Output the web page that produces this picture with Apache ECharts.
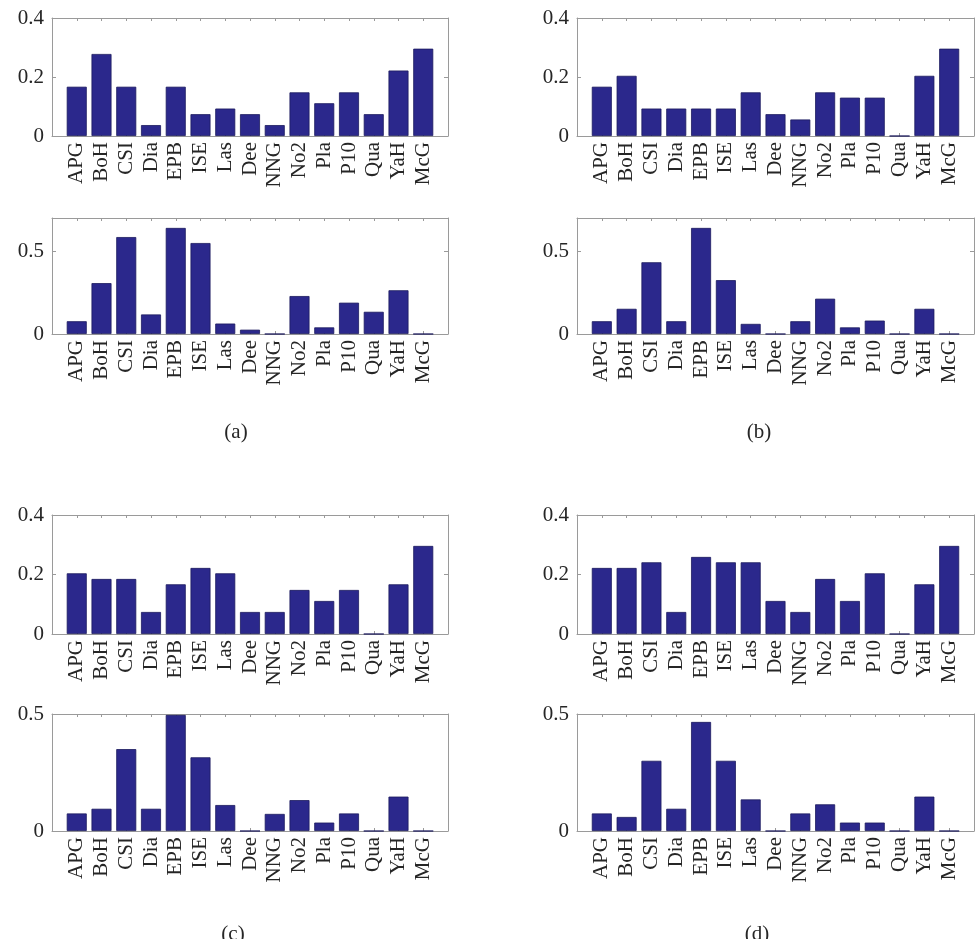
<!DOCTYPE html>
<html>
<head>
<meta charset="utf-8">
<script src="https://cdn.jsdelivr.net/npm/echarts@6/dist/echarts.min.js"></script>
<style>
html,body{margin:0;padding:0;background:#fff;}
#chart{width:978px;height:939px;}
</style>
</head>
<body>
<div id="chart"></div>
<script>
const categories = ['APG','BoH','CSI','Dia','EPB','ISE','Las','Dee','NNG','No2','Pla','P10','Qua','YaH','McG'];

const aTop    = [0.167,0.278,0.167,0.037,0.167,0.074,0.093,0.074,0.037,0.148,0.111,0.148,0.074,0.222,0.296];
const aBottom = [0.077,0.307,0.585,0.118,0.640,0.549,0.063,0.026,0.000,0.229,0.040,0.189,0.134,0.264,0.000];
const bTop    = [0.167,0.204,0.093,0.093,0.093,0.093,0.148,0.074,0.056,0.148,0.130,0.130,0.000,0.204,0.296];
const bBottom = [0.077,0.152,0.433,0.077,0.640,0.325,0.061,0.000,0.077,0.213,0.040,0.081,0.000,0.152,0.000];
const cTop    = [0.204,0.185,0.185,0.074,0.167,0.222,0.204,0.074,0.074,0.148,0.111,0.148,0.000,0.167,0.296];
const cBottom = [0.075,0.095,0.350,0.095,0.496,0.315,0.111,0.000,0.073,0.132,0.036,0.075,0.000,0.147,0.000];
const dTop    = [0.222,0.222,0.241,0.074,0.259,0.241,0.241,0.111,0.074,0.185,0.111,0.204,0.000,0.167,0.296];
const dBottom = [0.075,0.060,0.300,0.095,0.466,0.300,0.135,0.000,0.075,0.114,0.036,0.036,0.000,0.147,0.000];

const yTicksTop = [0, 0.2, 0.4];
const yTicksBottom = [0, 0.5];
const yMaxTop = 0.4;
const yMaxBottomAB = 0.7;
const yMaxBottomCD = 0.5;
const panelLabels = ['(a)', '(b)', '(c)', '(d)'];

const cols = [{left: 52, width: 396}, {left: 577, width: 397}];
const rows = [{top: 18, height: 118}, {top: 218, height: 116}, {top: 515, height: 119}, {top: 714, height: 117}];

const panels = [
  {data: aTop,    col: 0, row: 0, ticks: yTicksTop,    max: yMaxTop,      interval: 0.2},
  {data: aBottom, col: 0, row: 1, ticks: yTicksBottom, max: yMaxBottomAB, interval: 0.5},
  {data: bTop,    col: 1, row: 0, ticks: yTicksTop,    max: yMaxTop,      interval: 0.2},
  {data: bBottom, col: 1, row: 1, ticks: yTicksBottom, max: yMaxBottomAB, interval: 0.5},
  {data: cTop,    col: 0, row: 2, ticks: yTicksTop,    max: yMaxTop,      interval: 0.2},
  {data: cBottom, col: 0, row: 3, ticks: yTicksBottom, max: yMaxBottomCD, interval: 0.5},
  {data: dTop,    col: 1, row: 2, ticks: yTicksTop,    max: yMaxTop,      interval: 0.2},
  {data: dBottom, col: 1, row: 3, ticks: yTicksBottom, max: yMaxBottomCD, interval: 0.5}
];

const FONT = 'Liberation Serif';
const AXIS_COLOR = '#9a9a9a';
const TEXT_COLOR = '#262626';
const BAR_COLOR = '#2b288c';

const grid = [], xAxis = [], yAxis = [], series = [];

panels.forEach((p, i) => {
  grid.push({left: cols[p.col].left, width: cols[p.col].width, top: rows[p.row].top, height: rows[p.row].height, containLabel: false});
  const lineStyle = {color: AXIS_COLOR, width: 1};
  // bottom x axis with category labels
  xAxis.push({
    type: 'value', gridIndex: i, min: 0, max: categories.length + 1, interval: 1,
    position: 'bottom',
    axisLine: {show: true, onZero: false, lineStyle},
    axisTick: {show: true, inside: true, length: 3, lineStyle},
    splitLine: {show: false},
    axisLabel: {
      show: true, rotate: 90, margin: 6, fontFamily: FONT, fontSize: 21, color: TEXT_COLOR,
      showMinLabel: true, showMaxLabel: true,
      formatter: v => (v >= 1 && v <= categories.length) ? categories[Math.round(v) - 1] : ''
    }
  });
  // top x axis (box)
  xAxis.push({
    type: 'value', gridIndex: i, min: 0, max: categories.length + 1, interval: 1,
    position: 'top',
    axisLine: {show: true, onZero: false, lineStyle},
    axisTick: {show: true, inside: true, length: 3, lineStyle},
    splitLine: {show: false},
    axisLabel: {show: false}
  });
  yAxis.push({
    type: 'value', gridIndex: i, min: 0, max: p.max, interval: p.interval,
    position: 'left',
    axisLine: {show: true, onZero: false, lineStyle},
    axisTick: {show: true, inside: true, length: 4, lineStyle},
    splitLine: {show: false},
    axisLabel: {
      show: true, margin: 8, fontFamily: FONT, fontSize: 21, color: TEXT_COLOR,
      showMaxLabel: true,
      formatter: v => {
        const t = p.ticks.find(t => Math.abs(t - v) < 1e-6);
        return t === undefined ? '' : String(t);
      }
    }
  });
  yAxis.push({
    type: 'value', gridIndex: i, min: 0, max: p.max, interval: p.interval,
    position: 'right',
    axisLine: {show: true, onZero: false, lineStyle},
    axisTick: {show: true, inside: true, length: 4, lineStyle},
    splitLine: {show: false},
    axisLabel: {show: false}
  });
  series.push({
    type: 'bar',
    xAxisIndex: 2 * i, yAxisIndex: 2 * i,
    data: p.data.map((v, k) => [k + 1, v]),
    barWidth: 20,
    itemStyle: {color: BAR_COLOR, borderColor: '#1c1a5e', borderWidth: 0.8},
    silent: true,
    animation: false
  });
});

const labelPos = [
  {x: 236, y: 432}, {x: 759, y: 432}, {x: 233, y: 934}, {x: 757, y: 934}
];
const graphic = panelLabels.map((t, i) => ({
  type: 'text', left: null, x: labelPos[i].x, y: labelPos[i].y,
  style: {text: t, fontFamily: FONT, fontSize: 21, fill: TEXT_COLOR, textAlign: 'center', textVerticalAlign: 'middle'}
}));

const chart = echarts.init(document.getElementById('chart'), null, {renderer: 'canvas'});
chart.setOption({
  animation: false,
  backgroundColor: '#ffffff',
  grid, xAxis, yAxis, series, graphic
});
</script>
</body>
</html>
